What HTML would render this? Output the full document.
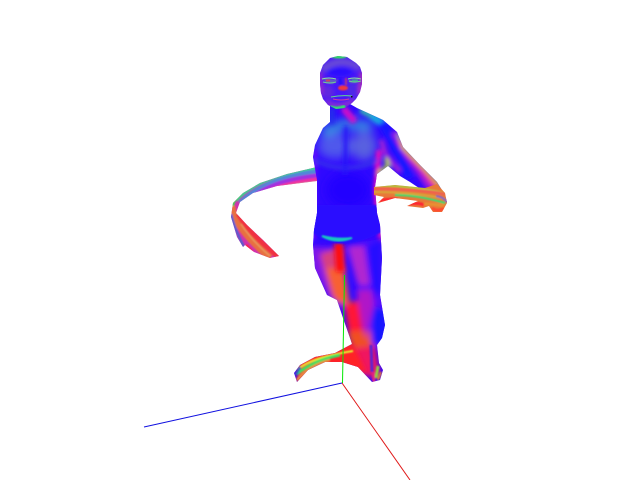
<!DOCTYPE html>
<html>
<head>
<meta charset="utf-8">
<style>
html,body{margin:0;padding:0;background:#fff;width:640px;height:480px;overflow:hidden}
svg{display:block}
</style>
</head>
<body>
<svg width="640" height="480" viewBox="0 0 640 480" xmlns="http://www.w3.org/2000/svg">
<defs>
<filter id="b2" x="-30%" y="-30%" width="160%" height="160%"><feGaussianBlur stdDeviation="2"/></filter>
<filter id="b1" x="-30%" y="-30%" width="160%" height="160%"><feGaussianBlur stdDeviation="0.8"/></filter>
<filter id="b3" x="-50%" y="-50%" width="200%" height="200%"><feGaussianBlur stdDeviation="3"/></filter>
<filter id="b5" x="-50%" y="-50%" width="200%" height="200%"><feGaussianBlur stdDeviation="5"/></filter>
<clipPath id="c-head"><polygon points="338,56 347,57 356,63 360,67 362,73 362,84 360,92 356,99 352,103 345,108 336,109 328,105 323,99 321,93 320,84 320,73 323,65 330,58"/></clipPath>
<clipPath id="c-body"><polygon points="330,104 350,104 357,108 370,114 383,120 397,132 403,147 420,165 437,182 445,195 447,202 442,206 425,192 410,182 400,176 388,166 377,174 375,187 377,213 380,225 382,258 380,295 385,325 382,338 377,345 379,363 383,370 380,380 372,382 358,367 342,362 325,362 308,370 297,382 294,373 300,365 315,357 335,353 352,344 350,338 343,318 337,300 327,295 315,268 313,245 314,230 317,213 317,180 313,157 315,145 323,128 330,122"/></clipPath>
<clipPath id="c-larm"><polygon points="317,167 287,174 260,183 243,193 233,203 231,217 237,237 243,247 245,245 254,252 270,258 279,256 263,240 247,225 236,213 240,202 253,193 277,186 317,181"/></clipPath>
<clipPath id="c-rhand"><polygon points="374,187 395,185 425,188 437,184 445,193 447,203 442,212 433,212 429,206 423,208 407,206 418,201 395,198 378,203 384,197 374,195"/></clipPath>
</defs>

<rect x="0" y="0" width="640" height="480" fill="#ffffff"/>

<g clip-path="url(#c-larm)">
  <rect x="225" y="160" width="100" height="105" fill="#d030b0"/>
  <g fill="none" filter="url(#b1)">
    <path d="M320,167 C285,171 252,182 236,200" stroke="#40d090" stroke-width="4"/>
    <path d="M320,171 C285,175 256,186 240,203" stroke="#5088d8" stroke-width="4"/>
    <path d="M320,175 C285,179 262,186 244,204" stroke="#a030e0" stroke-width="4"/>
    <path d="M320,179 C290,182 265,188 248,203" stroke="#f030a0" stroke-width="3"/>
    <path d="M320,182 C290,185 262,189 244,201" stroke="#b0d040" stroke-width="1.5"/>
    <path d="M240,193 C234,198 232,202 231,208" stroke="#40e050" stroke-width="5"/>
    <path d="M232,206 C232,218 245,236 270,258" stroke="#e87040" stroke-width="7"/>
    <path d="M238,214 C246,228 262,244 280,258" stroke="#f03040" stroke-width="5"/>
    <path d="M231,214 C234,226 239,238 245,249" stroke="#5060d0" stroke-width="2.5"/>
    <path d="M241,224 C249,236 258,246 270,256" stroke="#e8a060" stroke-width="1.2"/>
    <path d="M246,245 L252,252" stroke="#ff2040" stroke-width="3"/>
  </g>
</g>

<g clip-path="url(#c-body)">
  <rect x="290" y="100" width="170" height="300" fill="#3008ff"/>
  <g filter="url(#b5)">
    <ellipse cx="335" cy="146" rx="18" ry="13" fill="#5058ec"/>
    <ellipse cx="364" cy="146" rx="13" ry="15" fill="#5860e0"/>
    <path d="M322,132 L345,124 L372,126" stroke="#30a8d8" stroke-width="8" fill="none"/>
    <ellipse cx="348" cy="190" rx="22" ry="18" fill="#2000ff"/>
  </g>
  <g filter="url(#b2)">
    <path d="M315,150 L314,240" stroke="#7808ff" stroke-width="3" fill="none"/>
    <path d="M379,150 L376,190 L378,215 L382,245" stroke="#f008b8" stroke-width="5" fill="none"/>
    <path d="M332,108 L332,124" stroke="#2030e8" stroke-width="5" fill="none"/>
    <path d="M343,108 L355,122" stroke="#d010c8" stroke-width="7" fill="none"/>
    <!-- shoulder and arm bands -->
    <path d="M360,110 L384,122" stroke="#30c8a8" stroke-width="5" fill="none"/>
    <path d="M372,116 L386,126" stroke="#18a8e0" stroke-width="8" fill="none"/>
    <path d="M382,122 L392,140 L402,158 L409,178" stroke="#1818ff" stroke-width="9" fill="none"/>
    <path d="M394,132 L404,150 L418,170 L430,188" stroke="#9818e0" stroke-width="7" fill="none"/>
    <path d="M399,140 L408,154 L423,170 L436,188" stroke="#e83098" stroke-width="5" fill="none"/>
    <path d="M401,146 L411,155 L426,170 L440,188" stroke="#f09040" stroke-width="3.5" fill="none"/>
    <path d="M398,134 L404,148 L421,165 L438,182 L446,196" stroke="#b8d838" stroke-width="1.8" fill="none"/>
    <path d="M381,140 L386,155 L400,172" stroke="#a020d8" stroke-width="5" fill="none"/>
    <path d="M386,158 L388,166 L378,174" stroke="#b8d830" stroke-width="4" fill="none"/>
    <ellipse cx="340" cy="210" rx="2.5" ry="3" fill="#7010d8"/>
    <ellipse cx="345" cy="210" rx="2" ry="3" fill="#6010e0"/>
    <path d="M314,160 Q345,176 378,160" stroke="#3838e8" stroke-width="3" fill="none"/>
    <path d="M346,126 L345,175" stroke="#2818f8" stroke-width="4" fill="none"/>
  </g>
  <!-- pelvis and legs -->
  <g filter="url(#b3)">
    <polygon points="310,246 345,248 345,310 330,300 312,270" fill="#8018e8"/>
    <polygon points="320,254 338,248 346,300 332,298" fill="#d84080"/>
    <polygon points="326,268 344,268 350,305 336,302" fill="#f86030"/>
    <polygon points="345,246 385,238 385,340 372,345 362,300" fill="#5810fa"/>
    <polygon points="348,246 364,246 370,285 358,285" fill="#b028d0"/>
    <polygon points="367,245 383,238 383,290 372,300" fill="#2810ff"/>
    <polygon points="344,305 358,300 364,335 350,340" fill="#ff1838"/>
    <polygon points="347,332 370,330 372,350 352,350" fill="#f05020"/>
    <polygon points="370,305 386,310 386,338 374,350" fill="#1818ff"/>
    <polygon points="356,290 372,290 374,305 366,340 362,320" fill="#b018c8"/>
    <polygon points="345,350 375,345 380,378 360,375 345,366" fill="#f01860"/>
  </g>
  <g filter="url(#b2)">
    <polygon points="334,243 343,243 345,272 336,272" fill="#ff1010"/>
    <polygon points="300,352 352,342 366,372 345,366 315,365 296,388" fill="#ff2028"/>
  </g>
  <path d="M312,205 L382,205 L382,232 Q355,246 335,243 Q320,240 312,232 Z" fill="#2c10ff" filter="url(#b1)"/>
  <path d="M322,236 Q336,244 352,238 Q338,240 322,236 Z" fill="#18c8c0" stroke="#18c8c0" stroke-width="2" filter="url(#b1)"/>
  <g fill="none" filter="url(#b1)">
    <path d="M353,351 C335,354 312,358 298,369" stroke="#e8f030" stroke-width="2"/>
    <path d="M340,355 C325,358 310,363 297,374" stroke="#40e060" stroke-width="3"/>
    <path d="M330,360 C318,363 305,370 297,380" stroke="#e89040" stroke-width="2.5"/>
    <path d="M300,367 L296,375" stroke="#3060c0" stroke-width="2.5"/>
    <path d="M378,366 L376,378" stroke="#90d040" stroke-width="3"/>
    <path d="M381,372 L378,380" stroke="#e08030" stroke-width="2"/>
    <path d="M373,372 L374,382" stroke="#e02080" stroke-width="3"/>
    <path d="M371,345 L372,372" stroke="#6020d0" stroke-width="3"/>
  </g>
</g>

<g clip-path="url(#c-rhand)">
  <rect x="370" y="180" width="80" height="35" fill="#e87838"/>
  <g fill="none" filter="url(#b1)">
    <path d="M372,186 C395,185 425,188 445,193" stroke="#98e040" stroke-width="1.5"/>
    <path d="M372,189 C400,189 425,190 445,194" stroke="#f06050" stroke-width="3"/>
    <path d="M372,192 C400,192 425,194 445,199" stroke="#d8a838" stroke-width="2"/>
    <path d="M395,195 C410,195 425,197 445,203" stroke="#38e070" stroke-width="2"/>
    <path d="M378,201 C385,199 392,199 398,199" stroke="#ff2030" stroke-width="3"/>
    <path d="M408,204 C414,203 420,203 424,205" stroke="#ff2030" stroke-width="3"/>
    <path d="M424,204 C430,204 436,204 444,206" stroke="#e89030" stroke-width="3"/>
    <path d="M432,208 C436,211 440,211 444,208" stroke="#ff4830" stroke-width="3"/>
    <path d="M436,196 C441,197 444,198 447,202" stroke="#8060d0" stroke-width="2"/>
  </g>
</g>

<g clip-path="url(#c-head)">
  <rect x="315" y="50" width="55" height="65" fill="#4818f8"/>
  <g filter="url(#b2)">
    <path d="M322,70 Q340,55 360,68" stroke="#6848d8" stroke-width="7" fill="none"/>
    <ellipse cx="340" cy="72" rx="13" ry="5" fill="#2c10ff"/>
    <path d="M320,72 L321,95" stroke="#a028c8" stroke-width="4" fill="none"/>
    <path d="M362,72 L360,95" stroke="#c030a8" stroke-width="4" fill="none"/>
    <ellipse cx="328" cy="92" rx="6" ry="7" fill="#6028e0"/>
    <ellipse cx="353" cy="90" rx="6" ry="8" fill="#5028e8"/>
    <path d="M326,102 Q340,110 354,100" stroke="#b038c0" stroke-width="3" fill="none"/>
  </g>
  <ellipse cx="339" cy="56.5" rx="8" ry="2" fill="#30e060" filter="url(#b1)"/>
  <path d="M330,107 Q338,110 345,106" stroke="#30e070" stroke-width="3.5" fill="none" filter="url(#b1)"/>
  <g fill="none" filter="url(#b1)">
    <ellipse cx="343" cy="88" rx="5" ry="2.5" fill="#f03840" stroke="none"/>
    <path d="M340,78 L341,85" stroke="#2010ff" stroke-width="3"/>
    <path d="M346,78 L346,85" stroke="#b03090" stroke-width="2"/>
    <path d="M323,78 L338,80 L333,84 L326,83 Z" fill="#6060c0" stroke="none"/>
    <path d="M348,80 L360,78 L356,83 L350,83 Z" fill="#6060c0" stroke="none"/>
  </g>
  <g fill="none" stroke-width="1">
    <path d="M322,79 Q329,77 336,79" stroke="#90e0a0"/>
    <path d="M348,79 Q354,77 361,79" stroke="#90e0a0"/>
    <path d="M323,82 Q330,84 336,82" stroke="#70d090"/>
    <path d="M349,81 Q355,83 361,81" stroke="#70d090"/>
    <path d="M331,97 Q341,95 352,96" stroke="#60d890"/>
    <path d="M333,99 Q341,101 349,99" stroke="#d040a0"/>
    <path d="M326,80.5 L330,80.5" stroke="#d04060" stroke-width="2"/>
    <path d="M352,80.5 L358,80.5" stroke="#40a0a0" stroke-width="2"/>
  </g>
  <rect x="351" y="96" width="1.5" height="1.5" fill="#101010"/>
</g>

<g stroke-width="1" fill="none">
  <line x1="342" y1="383" x2="410" y2="480" stroke="#e01818"/>
  <line x1="342.5" y1="383" x2="344.5" y2="275" stroke="#00e800"/>
  <line x1="342" y1="383" x2="144" y2="427" stroke="#1010e0"/>
</g>
</svg>
</body>
</html>
